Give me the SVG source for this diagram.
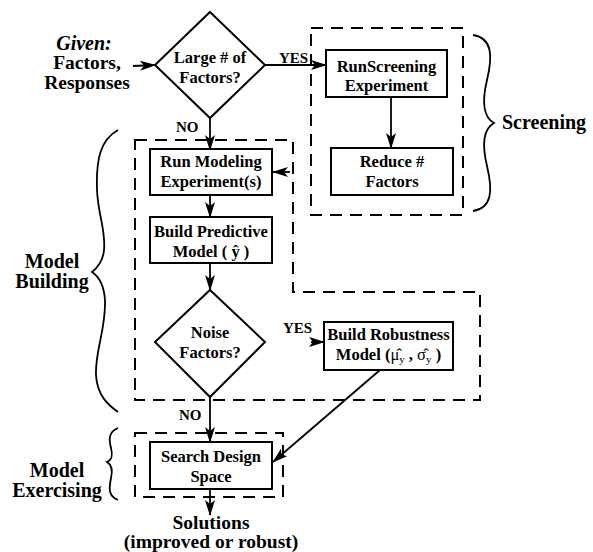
<svg xmlns="http://www.w3.org/2000/svg" width="593" height="552" viewBox="0 0 593 552" font-family="Liberation Serif, Times New Roman, serif">
<style>
text{font-weight:bold;fill:#000}
.bx{fill:#fff;stroke:#000;stroke-width:2}
.dg{fill:#fff;stroke:#000;stroke-width:2}
.t{font-size:16.5px;text-anchor:middle}
.big{font-size:20px;text-anchor:middle}
.mid{font-size:19.5px;text-anchor:middle}
.bigl{font-size:20px;text-anchor:start}
.lb{font-size:15px}
.dash{fill:none;stroke:#000;stroke-width:2;stroke-dasharray:12 8}
.br{fill:none;stroke:#000;stroke-width:1.8}
.c{fill:none;stroke:#000;stroke-width:1.8;marker-end:url(#ah)}
</style>
<defs>
<marker id="ah" viewBox="0 0 16 10" refX="15" refY="5" markerWidth="16" markerHeight="10" markerUnits="userSpaceOnUse" orient="auto">
<path d="M0,0 L16,5 L0,10 L4,5 Z" fill="#000"/>
</marker>
</defs>
<g id="regions">
<path class="dash" d="M311,28 H463 V215 H311 Z"/>
<path class="dash" d="M135,140 H293 V292 H480 V400 H135 Z"/>
<path class="dash" d="M135,433 H283 V497 H135 Z"/>
</g>
<g id="braces">
<path class="br" d="M473,35 C492,38 493,55 487,80 C481,105 485,118 494,123 C485,128 481,141 487,166 C493,191 492,208 473,211"/>
<path class="br" d="M118,130 C100,140 96,160 97,190 C98,215 106,230 104,250 C103,262 97,268 92,272 C98,276 104,285 105,300 C106,330 95,350 96,375 C97,395 108,405 118,412"/>
<path class="br" d="M118,428 C108,432 109,440 111,448 C113,456 112,460 107,462 C112,465 113,470 111,478 C109,488 108,496 118,500"/>
</g>
<g id="connectors">
<path class="c" d="M133,66 L155,65"/>
<path class="c" d="M265,65 L326,65"/>
<path class="c" d="M391,97 L391,148"/>
<path class="c" d="M210,118 L210,150"/>
<path class="c" d="M290,172 L273,172"/>
<path class="c" d="M210,195 L210,217"/>
<path class="c" d="M210,263 L210,290"/>
<path class="c" d="M311,342 L324,342"/>
<path class="c" d="M380,370 L273,462"/>
<path class="c" d="M210,397 L210,442"/>
<path class="c" d="M210,489 L210,515"/>
</g>
<g id="given">
<text class="big" x="84" y="50" font-style="italic">Given:</text>
<text class="mid" x="87" y="69">Factors,</text>
<text class="mid" x="87" y="89">Responses</text>
</g>
<g id="large-factors">
<path class="dg" d="M210,12 L265,65 L210,118 L155,65 Z"/>
<text class="t" x="210" y="63">Large # of</text>
<text class="t" x="210" y="83">Factors?</text>
</g>
<g id="run-screening">
<rect class="bx" x="326" y="50" width="121" height="47"/>
<text class="t" x="386.5" y="72">RunScreening</text>
<text class="t" x="386.5" y="91">Experiment</text>
</g>
<g id="reduce-factors">
<rect class="bx" x="331" y="148" width="122" height="47"/>
<text class="t" x="392" y="167">Reduce #</text>
<text class="t" x="392" y="187">Factors</text>
</g>
<g id="run-modeling">
<rect class="bx" x="150" y="149" width="122" height="46"/>
<text class="t" x="211" y="167">Run Modeling</text>
<text class="t" x="211" y="187">Experiment(s)</text>
</g>
<g id="build-predictive">
<rect class="bx" x="150" y="217" width="122" height="46"/>
<text class="t" x="211" y="237">Build Predictive</text>
<text class="t" x="211" y="257">Model ( ŷ )</text>
</g>
<g id="noise-factors">
<path class="dg" d="M210,290 L265,342 L210,397 L155,342 Z"/>
<text class="t" x="210" y="338">Noise</text>
<text class="t" x="210" y="358">Factors?</text>
</g>
<g id="build-robustness">
<rect class="bx" x="324" y="322" width="129" height="48"/>
<text class="t" x="388.5" y="340">Build Robustness</text>
<text class="t" x="388.5" y="360">Model (<tspan font-weight="normal">μ̂</tspan><tspan font-size="11" font-weight="normal" dy="3">y</tspan><tspan dy="-3"> , </tspan><tspan font-weight="normal">σ̂</tspan><tspan font-size="11" font-weight="normal" dy="3">y</tspan><tspan dy="-3">  )</tspan></text>
</g>
<g id="search-design">
<rect class="bx" x="150" y="442" width="122" height="47"/>
<text class="t" x="211" y="462">Search Design</text>
<text class="t" x="211" y="482">Space</text>
</g>
<g id="labels">
<text class="lb" x="279" y="63">YES</text>
<text class="lb" x="176" y="132">NO</text>
<text class="lb" x="283" y="333">YES</text>
<text class="lb" x="179" y="420">NO</text>
<text class="bigl" x="502" y="129">Screening</text>
<text class="big" x="52" y="268">Model</text>
<text class="big" x="52" y="288">Building</text>
<text class="big" x="57" y="477">Model</text>
<text class="big" x="57" y="497">Exercising</text>
<text class="mid" x="211" y="529">Solutions</text>
<text class="mid" x="211" y="548">(improved or robust)</text>
</g>
</svg>
